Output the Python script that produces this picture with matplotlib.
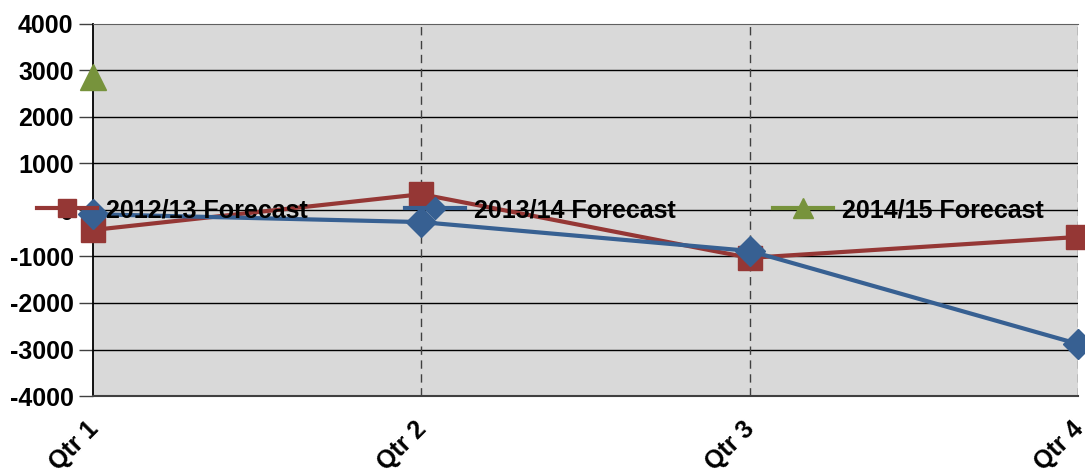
import matplotlib
matplotlib.use("Agg")
import matplotlib.pyplot as plt
from matplotlib.transforms import ScaledTranslation

categories = ["Qtr 1", "Qtr 2", "Qtr 3", "Qtr 4"]
s2012 = [-430, 340, -1030, -580]
s2013 = [-90, -260, -880, -2880]
s2014 = [2850, None, None, None]
yticks = [-4000, -3000, -2000, -1000, 0, 1000, 2000, 3000, 4000]

plt.rcParams['font.family'] = ['Liberation Sans', 'DejaVu Sans']
plt.rcParams['font.weight'] = 'bold'

fig = plt.figure(figsize=(10.85, 4.69), dpi=100)
ax = fig.add_axes([93/1085, (469-396)/469, (1078-93)/1085, (396-24)/469])
ax.set_facecolor('#D9D9D9')

x = list(range(len(categories)))
red, blue, green = '#953735', '#376092', '#77933C'

ax.plot(x, s2012, color=red, lw=3, marker='s', ms=17, clip_on=False, zorder=4, label='2012/13 Forecast')
ax.plot(x, s2013, color=blue, lw=3, marker='D', ms=15, clip_on=False, zorder=5, label='2013/14 Forecast')
xs = [xi for xi, v in zip(x, s2014) if v is not None]
vs = [v for v in s2014 if v is not None]
ax.plot(xs, vs, color=green, lw=3, marker='^', ms=19, clip_on=False, zorder=5, label='2014/15 Forecast')

ax.set_xlim(0, 3)
ax.set_ylim(-4000, 4000)
ax.set_yticks(yticks)
ax.set_yticklabels([str(v) for v in yticks], fontsize=18, fontweight='bold')
ax.set_xticks(x)
ax.set_xticklabels(categories, rotation=45, ha='right', va='top', fontsize=18, fontweight='bold',
                   rotation_mode='anchor')
ax.tick_params(axis='x', length=0, pad=15)
ax.tick_params(axis='y', length=10, width=1, color='#404040', pad=4)
off = ScaledTranslation(-7/100, 0, fig.dpi_scale_trans)
for lbl in ax.get_xticklabels():
    lbl.set_transform(lbl.get_transform() + off)

for yv in yticks[1:-1]:
    ax.axhline(yv, color='black', lw=1, zorder=1)
for xv in x[1:]:
    ax.axvline(xv, color='#404040', lw=1, ls=(0, (6, 4)), zorder=1)

ax.spines['left'].set_color('black')
ax.spines['left'].set_linewidth(1.3)
ax.spines['bottom'].set_color('#404040')
ax.spines['bottom'].set_linewidth(1.5)
ax.spines['top'].set_color('#606060')
ax.spines['right'].set_visible(False)

leg = ax.legend(loc='center left', bbox_to_anchor=(-0.057, 0.5), ncol=3, frameon=False,
                prop={'weight': 'bold', 'size': 18}, handlelength=2.4,
                handletextpad=0.36, columnspacing=3.9, markerscale=0.75, borderaxespad=0,
                borderpad=0)
leg.set_zorder(10)

fig.savefig('out.png', dpi=100)
